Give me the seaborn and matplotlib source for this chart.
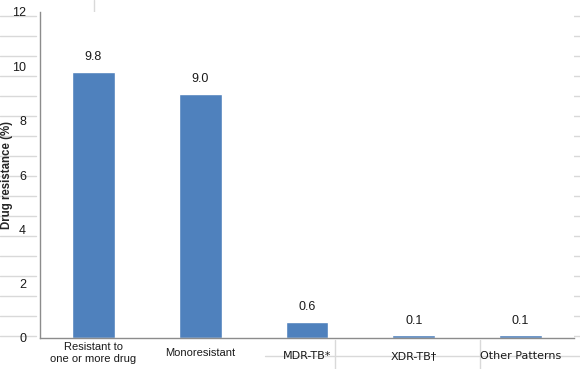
import matplotlib
matplotlib.use("Agg")
import matplotlib.pyplot as plt
import matplotlib.transforms as mtransforms
import seaborn as sns
import pandas as pd
from matplotlib.lines import Line2D

# values
categories = ["Resistant to\none or more drug", "Monoresistant", "MDR-TB*", "XDR-TB\u2020", "Other Patterns"]
values = [9.8, 9.0, 0.6, 0.1, 0.1]
value_labels = ["9.8", "9.0", "0.6", "0.1", "0.1"]
y_ticks = [0, 2, 4, 6, 8, 10, 12]

df = pd.DataFrame({"Pattern": categories, "Resistance": values})

sns.set_style("white")
plt.rcParams["font.family"] = ["Liberation Sans", "DejaVu Sans"]

W, H = 580, 369
fig = plt.figure(figsize=(W / 100, H / 100), dpi=100)
ax = fig.add_axes([40 / W, 1 - 338 / H, 534 / W, 326 / H])

sns.barplot(data=df, x="Pattern", y="Resistance", color="#4F81BD", width=0.4,
            saturation=1, ax=ax)

for i, (v, lab) in enumerate(zip(values, value_labels)):
    ax.annotate(lab, (i, v), xytext=(0, 6), textcoords="offset points",
                ha="center", va="bottom", fontsize=9, color="#1a1a1a")

ax.set_ylim(0, 12)
ax.set_yticks(y_ticks)
ax.set_yticklabels([str(t) for t in y_ticks], fontsize=9, color="#1a1a1a")
ax.tick_params(axis="y", length=0, pad=10)
ax.tick_params(axis="x", length=4, width=1, color="#d9d9d9", pad=7,
               labelsize=8, labelcolor="#1a1a1a")
for lab in ax.get_xticklabels():
    lab.set_va("center")
    lab.set_linespacing(1.25)
for lab in ax.get_xticklabels()[2:]:
    lab.set_family(["DejaVu Sans"])
    lab.set_fontsize(8)
    lab.set_transform(lab.get_transform() +
                      mtransforms.ScaledTranslation(0, -3 / 100, fig.dpi_scale_trans))

ax.set_xlabel("")
ax.set_ylabel("Drug resistance (%)", fontsize=8.3, fontweight="bold")
ax.yaxis.set_label_coords(-0.050, 0.5)

for s in ["top", "right"]:
    ax.spines[s].set_visible(False)
for s in ["left", "bottom"]:
    ax.spines[s].set_color("#8c8c8c")
    ax.spines[s].set_linewidth(1)

# stray light-grey guide marks around the plot area, as in the reference
grey = "#d9d9d9"
def px_line(x0, y0, x1, y1):
    fig.add_artist(Line2D([x0 / W, x1 / W], [1 - y0 / H, 1 - y1 / H],
                          color=grey, lw=1, transform=fig.transFigure, zorder=0))

for k in range(17):
    y = 16 + 20 * k
    px_line(0, y, 36, y)
    px_line(573, y, 580, y)
px_line(94, 0, 94, 12)
px_line(335, 340, 335, 369)
px_line(480, 340, 480, 369)
px_line(265, 356, 580, 356)

fig.savefig("out.png", dpi=100)
